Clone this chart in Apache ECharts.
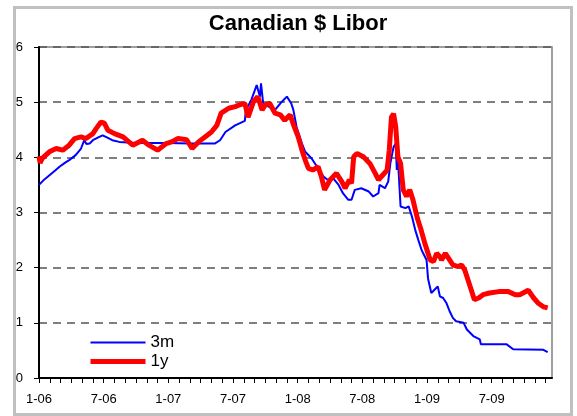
<!DOCTYPE html>
<html>
<head>
<meta charset="utf-8">
<script src="https://cdn.jsdelivr.net/npm/echarts@6/dist/echarts.min.js"></script>
<style>
html,body{margin:0;padding:0;background:#fff;}
#chart{width:577px;height:416px;}
</style>
</head>
<body>
<div id="chart"></div>
<script>
// x positions are months since 1-Jan-2006
const tickLabels = ['1-06','7-06','1-07','7-07','1-08','7-08','1-09','7-09'];

const m3Months = [0,0.5,1.0,1.5,1.9,2.4,2.8,3.4,3.9,4.2,4.4,4.7,5.0,5.5,5.9,6.3,6.8,7.45,9.0,12.0,14.0,16.3,16.8,17.3,18.2,19.1,19.2,19.7,20.2,20.3,20.5,20.6,20.8,21.3,21.9,22.4,23.0,23.4,23.6,23.9,24.4,24.7,25.3,25.8,26.4,26.8,27.3,27.8,28.2,28.7,29.0,29.3,29.9,30.6,31.0,31.5,31.6,32.1,32.4,32.6,32.9,33.1,33.2,33.3,33.55,34.0,34.3,34.6,34.9,35.2,35.5,35.65,35.96,36.1,36.4,36.7,37.0,37.2,37.5,37.8,38.1,38.4,38.7,39.4,39.7,40.3,40.9,41.0,43.4,44.0,46.8,47.2];
const m3Values = [3.50,3.60,3.68,3.76,3.83,3.90,3.95,4.04,4.16,4.31,4.24,4.25,4.31,4.36,4.40,4.36,4.31,4.28,4.26,4.26,4.25,4.25,4.31,4.46,4.58,4.66,4.86,5.04,5.31,5.34,5.10,5.34,4.98,4.92,4.86,4.98,5.10,4.98,4.86,4.55,4.25,4.10,3.98,3.83,3.65,3.59,3.62,3.50,3.35,3.23,3.23,3.41,3.44,3.38,3.29,3.35,3.50,3.44,3.56,3.89,4.19,4.25,3.77,3.98,3.11,3.08,3.11,2.93,2.69,2.50,2.32,2.26,2.14,1.80,1.54,1.60,1.66,1.48,1.45,1.36,1.21,1.09,1.03,1.00,0.88,0.76,0.70,0.61,0.61,0.52,0.51,0.47];

const y1Months = [0,0.1,0.3,0.96,1.6,2.2,2.8,3.3,3.9,4.36,5.0,5.3,5.75,6.06,6.4,7.0,7.8,8.7,9.6,10.2,11.0,11.8,12.3,12.9,13.7,14.2,14.8,15.4,16.0,16.5,16.9,17.6,18.2,18.6,19.1,19.4,19.9,20.3,20.7,21.0,21.4,21.9,22.4,22.8,23.3,23.6,24.05,24.4,24.7,25.0,25.4,25.9,26.2,26.5,27.0,27.6,28.1,28.4,28.8,29.0,29.2,29.5,30.1,30.7,31.2,31.5,31.9,32.3,32.5,32.7,32.9,33.1,33.3,33.55,33.8,34.1,34.4,34.7,35.1,35.4,35.8,36.3,36.6,36.9,37.2,37.35,37.7,38.1,38.4,38.9,39.2,39.5,39.8,40.1,40.4,40.8,41.2,41.8,42.8,43.5,44.2,44.6,45.4,45.9,46.3,46.8,47.2];
const y1Values = [4.02,3.90,3.98,4.10,4.16,4.13,4.22,4.34,4.37,4.34,4.43,4.52,4.64,4.62,4.49,4.43,4.37,4.22,4.31,4.22,4.13,4.25,4.28,4.34,4.32,4.16,4.28,4.37,4.46,4.58,4.80,4.89,4.92,4.95,4.98,4.73,5.01,5.10,4.86,4.95,4.98,4.80,4.77,4.67,4.77,4.60,4.37,4.13,3.95,3.80,3.77,3.83,3.65,3.41,3.59,3.71,3.56,3.44,3.59,3.53,4.01,4.07,4.01,3.89,3.71,3.59,3.68,3.77,4.13,4.73,4.79,4.55,4.01,3.89,3.41,3.29,3.41,3.23,2.90,2.72,2.44,2.14,2.11,2.26,2.20,2.14,2.26,2.14,2.05,2.02,2.05,1.96,1.78,1.60,1.42,1.45,1.51,1.54,1.57,1.57,1.51,1.51,1.59,1.45,1.36,1.29,1.27];

const zip = (xs, ys) => xs.map((x, i) => [x, ys[i]]);

const chart = echarts.init(document.getElementById('chart'), null, {renderer: 'canvas'});
const font = 'Liberation Sans, Arial, sans-serif';
chart.setOption({
  animation: false,
  backgroundColor: '#fff',
  title: {
    text: 'Canadian $ Libor',
    left: 293, top: 8, textAlign: 'center',
    textStyle: {fontFamily: font, fontWeight: 'bold', fontSize: 22, color: '#000'}
  },
  graphic: [{
    type: 'rect', left: 12, top: 5, silent: true,
    shape: {width: 557, height: 407},
    style: {fill: 'none', stroke: '#c0c0c0', lineWidth: 3}
  }],
  legend: {
    left: 88, top: 334, orient: 'vertical', padding: 0,
    itemWidth: 55, itemHeight: 14, itemGap: 2,
    itemStyle: {opacity: 0},
    textStyle: {fontFamily: font, fontSize: 17, color: '#000'},
    data: [
      {name: '3m', lineStyle: {color: '#0000ff', width: 2}},
      {name: '1y', lineStyle: {color: '#ff0000', width: 5}}
    ]
  },
  grid: {
    left: 39, right: 25, top: 47, bottom: 38,
    show: true, borderColor: '#808080', borderWidth: 1.5, backgroundColor: '#fff'
  },
  xAxis: {
    type: 'value', min: 0, max: 47.6, interval: 1,
    axisLine: {show: true, onZero: false, lineStyle: {color: '#000', width: 2}},
    axisTick: {show: true, length: 5, lineStyle: {color: '#000', width: 1}},
    axisLabel: {
      margin: 15, fontFamily: font, fontSize: 13, color: '#000', showMaxLabel: false,
      formatter: v => (Number.isInteger(v) && v % 6 === 0 && tickLabels[v / 6]) ? tickLabels[v / 6] : ''
    },
    splitLine: {show: false}
  },
  yAxis: {
    type: 'value', min: 0, max: 6, interval: 1,
    axisLine: {show: true, lineStyle: {color: '#000', width: 2}},
    axisTick: {show: true, length: 5, lineStyle: {color: '#000', width: 1}},
    axisLabel: {margin: 16, fontFamily: font, fontSize: 13, color: '#000'},
    splitLine: {show: true, lineStyle: {color: '#555', width: 1.5, type: [8, 6]}}
  },
  series: [
    {
      name: '3m', type: 'line', data: zip(m3Months, m3Values),
      showSymbol: false, symbol: 'none',
      lineStyle: {color: '#0000ff', width: 2}, itemStyle: {color: '#0000ff'}
    },
    {
      name: '1y', type: 'line', data: zip(y1Months, y1Values),
      showSymbol: false, symbol: 'none',
      lineStyle: {color: '#ff0000', width: 5}, itemStyle: {color: '#ff0000'}
    }
  ]
});
</script>
</body>
</html>
